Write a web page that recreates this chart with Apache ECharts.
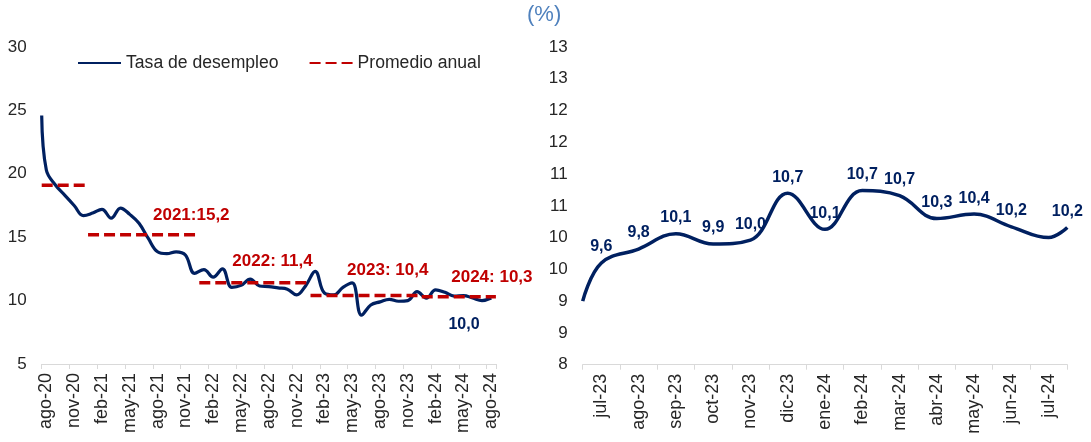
<!DOCTYPE html>
<html>
<head>
<meta charset="utf-8">
<script src="https://cdn.jsdelivr.net/npm/echarts@6.0.0/dist/echarts.min.js"></script>
<style>
  html, body { margin: 0; padding: 0; background: #fff; }
  #chart { width: 1091px; height: 442px; }
</style>
</head>
<body>
<div id="chart"></div>
<script>
// panel izquierdo: tasa mensual ago-20 .. ago-24
var leftMonths = ['ago-20','sep-20','oct-20','nov-20','dic-20',
  'ene-21','feb-21','mar-21','abr-21','may-21','jun-21','jul-21','ago-21','sep-21','oct-21','nov-21','dic-21',
  'ene-22','feb-22','mar-22','abr-22','may-22','jun-22','jul-22','ago-22','sep-22','oct-22','nov-22','dic-22',
  'ene-23','feb-23','mar-23','abr-23','may-23','jun-23','jul-23','ago-23','sep-23','oct-23','nov-23','dic-23',
  'ene-24','feb-24','mar-24','abr-24','may-24','jun-24','jul-24','ago-24'];
var leftRate = [20.3, 19.1, 18.3, 17.5, 16.7,
  16.9, 17.2, 16.5, 17.3, 16.8, 16.1, 14.9, 13.85, 13.7, 13.85, 13.6, 12.15,
  12.45, 11.85, 12.5, 11.05, 11.2, 11.7, 11.15, 11.1, 11.0, 10.9, 10.45, 11.2,
  12.3, 10.6, 10.45, 11.05, 11.4, 8.85, 9.65, 9.9, 10.1, 9.95, 10.0, 10.7,
  10.2, 10.85, 10.65, 10.35, 10.4, 10.2, 10.0, 10.2];
var leftLead = 24.6;          // valor en el borde izquierdo del eje
var leftLabelMonth = 'jul-24';

// promedios anuales
var avgYears = ['20', '21', '22', '23', '24'];
var avgValues = [19.1, 15.2, 11.4, 10.4, 10.3];
var avgLabels = ['', '2021:15,2', '2022: 11,4', '2023: 10,4', '2024: 10,3'];

// panel derecho: jul-23 .. jul-24
var rightMonths = ['jul-23','ago-23','sep-23','oct-23','nov-23','dic-23','ene-24','feb-24','mar-24','abr-24','may-24','jun-24','jul-24'];
var rightRate = [9.6, 9.82, 10.06, 9.9, 9.96, 10.7, 10.13, 10.74, 10.66, 10.3, 10.37, 10.17, 10.0];
var rightLead = 9.0;          // borde izquierdo
var rightTail = 10.16;        // borde derecho (etiqueta 10,2)
var rightUnlabeled = ['jul-24'];

var leftTicks = [5, 30, 5];
var rightTicks = [8, 13, 0.5];

var NAVY = '#002060';
var RED = '#C00000';
var FONT = 'Liberation Sans, Arial, sans-serif';
var TXT = '#262626';
var AXIS = '#D9D9D9';

function fmt(v) { return v.toFixed(1).replace('.', ','); }

// serie izquierda sobre eje de valores (centro de cada mes = i + 0.5)
var leftData = [[0, leftLead]];
leftRate.forEach(function (v, i) {
  var item = { value: [i + 0.5, v] };
  if (leftMonths[i] === leftLabelMonth) {
    item.label = { show: true, position: 'bottom', distance: 5, offset: [-18, 11] };
  }
  leftData.push(item);
});

// segmentos de promedio por año
var avgOffsets = [[0, 0], [-8, -6], [-38, -8], [-34, -12], [-4, -6]];
var avgSeries = avgYears.map(function (yy, k) {
  var first = -1, last = -1;
  leftMonths.forEach(function (m, i) {
    if (m.slice(-2) === yy) { if (first < 0) first = i; last = i; }
  });
  return {
    name: 'Promedio anual',
    type: 'line',
    xAxisIndex: 1, yAxisIndex: 0,
    symbol: 'circle', symbolSize: 0,
    lineStyle: { color: RED, width: 3.5, type: [11, 5] },
    itemStyle: { color: RED },
    z: 3,
    label: { show: false },
    data: [
      { value: [first, avgValues[k]] },
      { value: [last + 1, avgValues[k]],
        label: {
          show: avgLabels[k] !== '',
          position: 'top', distance: 5, offset: avgOffsets[k],
          formatter: avgLabels[k],
          color: RED, fontWeight: 'bold', fontSize: 17, fontFamily: FONT
        } }
    ]
  };
});

var rightData = [{ value: [0, rightLead], label: { show: false } }];
rightRate.forEach(function (v, i) {
  rightData.push({ value: [i + 0.5, v], label: { show: rightUnlabeled.indexOf(rightMonths[i]) < 0 } });
});
rightData.push({ value: [rightMonths.length, rightTail], label: { show: true } });

var chart = echarts.init(document.getElementById('chart'));

var catAxisBase = {
  type: 'category',
  boundaryGap: true,
  axisLine: { show: true, lineStyle: { color: AXIS, width: 1 } },
  axisTick: { show: true, length: 5, lineStyle: { color: AXIS } },
  axisLabel: { rotate: 90, margin: 9, color: TXT, fontSize: 18, fontFamily: FONT },
  splitLine: { show: false }
};

chart.setOption({
  animation: false,
  backgroundColor: '#fff',
  textStyle: { fontFamily: FONT },
  graphic: [{
    type: 'text', left: 527, top: 4,
    style: { text: '(%)', fontSize: 22, fontFamily: FONT, fill: '#4F81BD' }
  }],
  legend: {
    left: 77, top: 54, padding: 0,
    itemWidth: 43, itemHeight: 14, itemGap: 30,
    itemStyle: { opacity: 0 },
    textStyle: { color: TXT, fontSize: 17.6, fontFamily: FONT },
    data: ['Tasa de desempleo', 'Promedio anual']
  },
  grid: [
    { left: 41.7, top: 47, width: 454.2, height: 317 },
    { left: 582.7, top: 47, width: 484.6, height: 317.7 }
  ],
  xAxis: [
    Object.assign({}, catAxisBase, {
      gridIndex: 0, data: leftMonths,
      axisTick: Object.assign({}, catAxisBase.axisTick, { interval: 2 }),
      axisLabel: Object.assign({}, catAxisBase.axisLabel, { interval: 2 })
    }),
    { type: 'value', gridIndex: 0, min: 0, max: leftMonths.length, show: false },
    Object.assign({}, catAxisBase, {
      gridIndex: 1, data: rightMonths,
      axisTick: Object.assign({}, catAxisBase.axisTick, { interval: 0 }),
      axisLabel: Object.assign({}, catAxisBase.axisLabel, { interval: 0 })
    }),
    { type: 'value', gridIndex: 1, min: 0, max: rightMonths.length, show: false }
  ],
  yAxis: [
    {
      type: 'value', gridIndex: 0,
      min: leftTicks[0], max: leftTicks[1], interval: leftTicks[2],
      axisLine: { show: false }, axisTick: { show: false }, splitLine: { show: false },
      axisLabel: { margin: 15, color: TXT, fontSize: 17, fontFamily: FONT }
    },
    {
      type: 'value', gridIndex: 1,
      min: rightTicks[0], max: rightTicks[1], interval: rightTicks[2],
      axisLine: { show: false }, axisTick: { show: false }, splitLine: { show: false },
      axisLabel: { margin: 15, color: TXT, fontSize: 17, fontFamily: FONT,
        formatter: function (v) { return String(Math.round(v)); } }
    }
  ],
  series: [
    {
      name: 'Tasa de desempleo',
      type: 'line',
      xAxisIndex: 1, yAxisIndex: 0,
      smooth: 0.4,
      symbol: 'circle', symbolSize: 0,
      lineStyle: { color: NAVY, width: 3.2 },
      itemStyle: { color: NAVY },
      z: 2,
      label: {
        show: false, color: NAVY, fontWeight: 'bold', fontSize: 16, fontFamily: FONT,
        formatter: function (p) { return fmt(p.value[1]); }
      },
      data: leftData
    }
  ].concat(avgSeries).concat([
    {
      name: 'Tasa de desempleo',
      type: 'line',
      xAxisIndex: 3, yAxisIndex: 1,
      smooth: 0.4,
      symbol: 'circle', symbolSize: 0,
      lineStyle: { color: NAVY, width: 3.5 },
      itemStyle: { color: NAVY },
      label: {
        show: true, position: 'top', distance: 8,
        color: NAVY, fontWeight: 'bold', fontSize: 16, fontFamily: FONT,
        formatter: function (p) { return fmt(p.value[1]); }
      },
      data: rightData
    }
  ])
});
</script>
</body>
</html>
